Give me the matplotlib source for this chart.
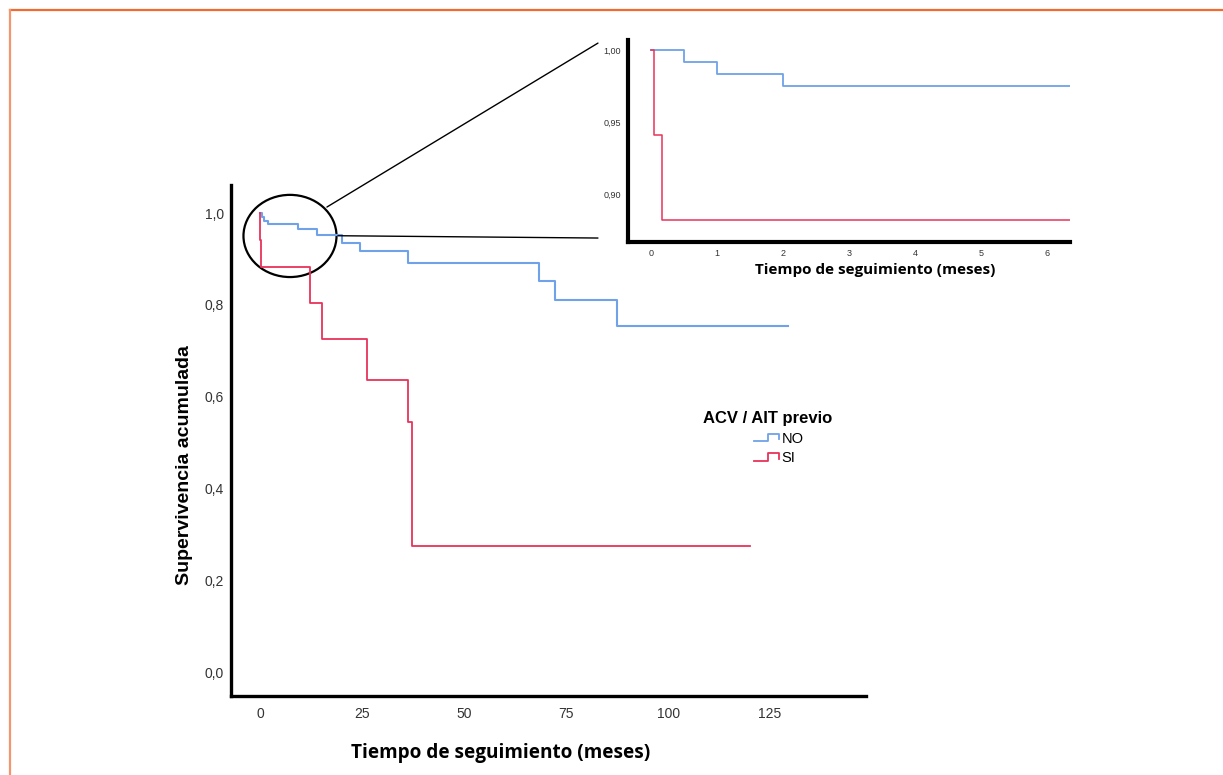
import matplotlib
matplotlib.use("Agg")
import matplotlib.pyplot as plt
from matplotlib.patches import Ellipse, ConnectionPatch
from matplotlib.lines import Line2D
from matplotlib.legend_handler import HandlerBase

# ---- data ----
no_t = [0, 0.5, 1, 2, 9.3, 14, 20, 24.5, 36.3, 68.4, 72.4, 87.4, 129.5]
no_s = [1.0, 0.992, 0.983, 0.975, 0.965, 0.952, 0.935, 0.918, 0.891, 0.852, 0.810, 0.753, 0.753]
si_t = [0, 0.05, 0.17, 12.2, 15.3, 26.2, 36.3, 37.3, 120.1]
si_s = [1.0, 0.941, 0.882, 0.805, 0.725, 0.636, 0.545, 0.274, 0.274]
groups = ["NO", "SI"]
legend_title = "ACV / AIT previo"
main_xticks = [0, 25, 50, 75, 100, 125]
main_yticks = [0.0, 0.2, 0.4, 0.6, 0.8, 1.0]
main_ylabels = ["0,0", "0,2", "0,4", "0,6", "0,8", "1,0"]
ins_xticks = [0, 1, 2, 3, 4, 5, 6]
ins_yticks = [0.90, 0.95, 1.00]
ins_ylabels = ["0,90", "0,95", "1,00"]
xlabel = "Tiempo de seguimiento (meses)"
ylabel = "Supervivencia acumulada"

BLUE = "#6FA2E8"
RED = "#E8335A"
TICKC = "#333333"

fig = plt.figure(figsize=(12.23, 7.75), dpi=100)

# orange frame
fig.add_artist(Line2D([0.0082, 1.0], [0.9865, 0.9865], transform=fig.transFigure,
                      color="#F26A30", lw=1.6))
fig.add_artist(Line2D([0.0082, 0.0082], [0.0, 0.9865], transform=fig.transFigure,
                      color="#F39670", lw=1.6))

# ---- main axes ----
ax = fig.add_axes([0.1889, 0.1019, 0.5192, 0.6594])
ax.step(no_t, no_s, where="post", color=BLUE, lw=1.5)
ax.step(si_t, si_s, where="post", color=RED, lw=1.3)
ax.set_xlim(-7.1, 148.5)
ax.set_ylim(-0.052, 1.061)
ax.set_xticks(main_xticks)
ax.set_xticklabels([str(v) for v in main_xticks])
ax.set_yticks(main_yticks)
ax.set_yticklabels(main_ylabels)
for s in ["top", "right"]:
    ax.spines[s].set_visible(False)
for s in ["left", "bottom"]:
    ax.spines[s].set_linewidth(2.4)
ax.tick_params(length=0, labelsize=10, colors=TICKC)
ax.tick_params(axis="y", pad=5)
ax.tick_params(axis="x", pad=8)
for lab in ax.get_xticklabels() + ax.get_yticklabels():
    lab.set_fontfamily("Liberation Sans")

fig.text(0.4097, 0.0284, xlabel, ha="center", va="center", fontsize=13.7,
         fontweight="bold", family="Open Sans")
fig.text(0.151, 0.40, ylabel, ha="center", va="center", rotation=90,
         fontsize=14, fontweight="bold", family="Liberation Sans")

# ellipse marking the zoomed region
ell = Ellipse((7.35, 0.950), 22.8, 0.179, fill=False, edgecolor="black",
              lw=1.6, clip_on=False)
ax.add_patch(ell)

# ---- legend with step symbols ----
class StepHandler(HandlerBase):
    def create_artists(self, legend, orig_handle, xdescent, ydescent,
                       width, height, fontsize, trans):
        w, h = width, height
        xs = [-xdescent, -xdescent + 0.55 * w, -xdescent + 0.55 * w,
              -xdescent + 0.95 * w, -xdescent + 0.95 * w]
        ys = [0.15 * h, 0.15 * h, 0.85 * h, 0.85 * h, 0.35 * h]
        ln = Line2D(xs, ys, color=orig_handle.get_color(), lw=1.3, transform=trans)
        return [ln]

h_no = Line2D([], [], color=BLUE)
h_si = Line2D([], [], color=RED)
leg = fig.legend([h_no, h_si], groups,
                 handler_map={Line2D: StepHandler()},
                 loc="upper left", bbox_to_anchor=(0.6165, 0.4426),
                 frameon=False, handlelength=1.8, borderpad=0, borderaxespad=0,
                 handletextpad=0.1, labelspacing=0.35,
                 prop={"family": "Liberation Sans", "size": 10.5})
fig.text(0.628, 0.4606, legend_title, ha="center", va="center", fontsize=12,
         fontweight="bold", family="Liberation Sans")

# ---- inset axes ----
ins = fig.add_axes([0.5135, 0.6877, 0.3614, 0.2606])
ins.step(no_t, no_s, where="post", color=BLUE, lw=1.3)
ins.step(si_t, si_s, where="post", color=RED, lw=1.1)
ins.set_xlim(-0.35, 6.35)
ins.set_ylim(0.8667, 1.0069)
ins.set_xticks(ins_xticks)
ins.set_xticklabels([str(v) for v in ins_xticks])
ins.set_yticks(ins_yticks)
ins.set_yticklabels(ins_ylabels)
for s in ["top", "right"]:
    ins.spines[s].set_visible(False)
for s in ["left", "bottom"]:
    ins.spines[s].set_linewidth(3.0)
ins.tick_params(length=0, labelsize=6.5, colors=TICKC, pad=5)
for lab in ins.get_xticklabels() + ins.get_yticklabels():
    lab.set_fontfamily("Liberation Sans")
fig.text(0.7159, 0.6516, xlabel, ha="center", va="center", fontsize=11,
         fontweight="bold", family="Open Sans")

# connector lines from ellipse to inset
c1 = ConnectionPatch(xyA=(16.4, 1.013), coordsA=ax.transData,
                     xyB=(-0.068, 0.985), coordsB=ins.transAxes,
                     color="black", lw=1.0)
c2 = ConnectionPatch(xyA=(19.1, 0.9505), coordsA=ax.transData,
                     xyB=(-0.068, 0.0198), coordsB=ins.transAxes,
                     color="black", lw=1.0)
fig.add_artist(c1)
fig.add_artist(c2)

fig.savefig("out.png", dpi=100, facecolor="white")
